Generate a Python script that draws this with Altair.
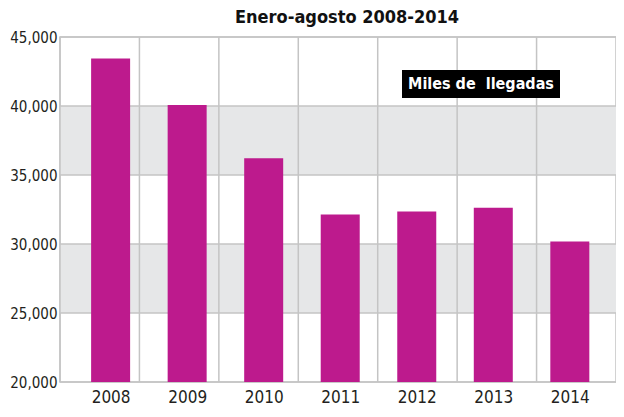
import altair as alt
import pandas as pd

years = [2008, 2009, 2010, 2011, 2012, 2013, 2014]
llegadas = [43450, 40080, 36220, 32130, 32350, 32630, 30190]
y_ticks = [20000, 25000, 30000, 35000, 40000, 45000]
band_lo = [25000, 35000]
band_hi = [30000, 40000]
title_text = "Enero-agosto 2008-2014"
note_text = "Miles de\u00a0 llegadas"

FONT = "DejaVu Sans Condensed"
BAR = "#bd1a8d"
GRID = "#c4c4c4"
BAND = "#e6e7e8"
TXT = "#231f20"

df = pd.DataFrame({"year": years, "value": llegadas})
bands = pd.DataFrame({"lo": band_lo, "hi": band_hi})
grid_y = pd.DataFrame({"v": y_ticks})
grid_x = pd.DataFrame({"year": years})
note_df = pd.DataFrame({"t": [note_text]})

yscale = alt.Scale(domain=[y_ticks[0], y_ticks[-1]], zero=False, nice=False)
yaxis = alt.Axis(values=y_ticks, labelExpr="format(datum.value, ',')",
                 title=None, grid=False, ticks=False, domain=False,
                 labelFontSize=15, labelPadding=3, labelFont=FONT,
                 labelColor=TXT)

band_layer = alt.Chart(bands).mark_rect(color=BAND).encode(
    y=alt.Y("lo:Q", scale=yscale, axis=yaxis),
    y2="hi:Q",
)

vgrid = alt.Chart(grid_x).mark_rule(color=GRID, strokeWidth=1.5).encode(
    x=alt.X("year:O", bandPosition=0,
            scale=alt.Scale(type="band", paddingInner=0, paddingOuter=0),
            axis=None),
)

hgrid = alt.Chart(grid_y).mark_rule(color=GRID, strokeWidth=1.5).encode(
    y=alt.Y("v:Q", scale=yscale, axis=yaxis),
)

bars = alt.Chart(df).mark_bar(color=BAR, size=39).encode(
    x=alt.X("year:Q",
            scale=alt.Scale(domain=[2007.404, 2014.538], nice=False, zero=False),
            axis=alt.Axis(values=years, labelExpr="format(datum.value, 'd')",
                          title=None, grid=False,
                          ticks=False, domain=False, labelFlush=False,
                          labelFontSize=17, labelPadding=7,
                          labelFont=FONT, labelColor=TXT)),
    y=alt.Y("value:Q", scale=yscale, axis=yaxis),
    y2=alt.datum(y_ticks[0]),
)

box = alt.Chart(note_df).mark_rect(color="black").encode(
    x=alt.value(342), x2=alt.value(500), y=alt.value(33), y2=alt.value(61)
)
txt = alt.Chart(note_df).mark_text(
    color="white", font=FONT, fontWeight="bold", fontSize=16
).encode(x=alt.value(421), y=alt.value(47), text="t:N")

chart = alt.layer(band_layer, vgrid, hgrid, bars, box, txt).resolve_scale(
    x="independent"
).properties(
    width=556,
    height=345,
    title=alt.Title(title_text, fontSize=18, font=FONT, fontWeight="bold",
                    anchor="middle", offset=3, dx=9, color="#111111"),
    padding={"left": 52, "top": 29, "right": 0, "bottom": 26},
    autosize="none",
).configure_view(stroke=GRID, strokeWidth=1.5)

chart.save("out.html", embed_options={"renderer": "svg", "actions": False})
